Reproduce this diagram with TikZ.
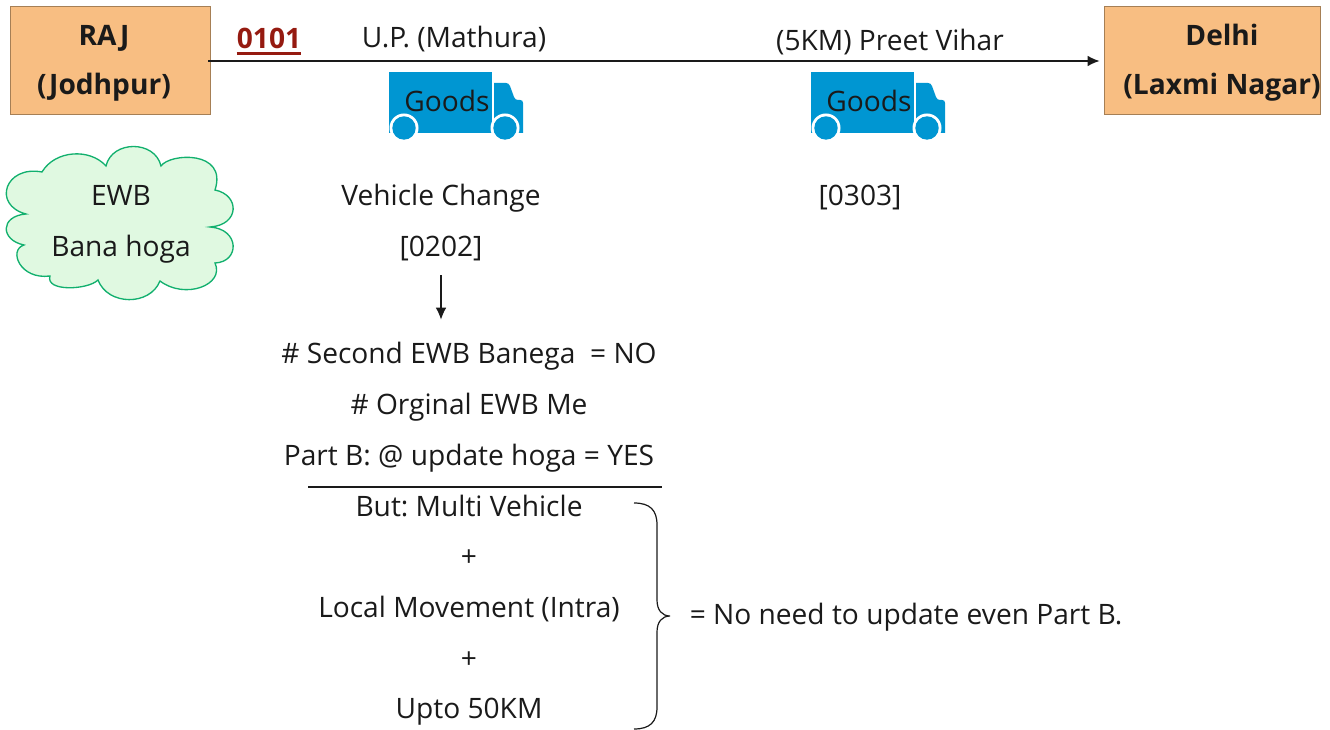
\documentclass[tikz,border=0pt]{standalone}
\usepackage{fontspec}
\setmainfont{Open Sans}
\usepackage{xcolor}
\usetikzlibrary{positioning}
\usetikzlibrary{arrows.meta}
\definecolor{cityfill}{HTML}{F8BE82}
\definecolor{cityline}{HTML}{A67F55}
\definecolor{cloudfill}{HTML}{E0F9E1}
\definecolor{cloudline}{HTML}{12B06E}
\definecolor{truckblue}{HTML}{0096D2}
\definecolor{codered}{HTML}{951A10}
\definecolor{inkblack}{HTML}{1A1A1A}
\tikzset{my_city/.style={draw=cityline, fill=cityfill, semithick, minimum height=81pt, inner sep=0pt}}
\tikzset{my_text/.style={anchor=base, font=\fontsize{21.1}{25}\selectfont, text=inkblack, inner sep=0pt}}
\tikzset{my_bold/.style={my_text, font=\fontsize{21.1}{25}\selectfont\bfseries}}
\tikzset{my_arrow/.style={-{Latex[length=9pt,width=8pt]},line width=1pt,draw=inkblack}}
\tikzset{my_line/.style={line width=0.9pt,draw=inkblack}}
\tikzset{my_truck/.pic={
    \fill[truckblue] (0,0) rectangle (103,61);
    \fill[truckblue] (105,11) -- (117,11) .. controls (119,11) and (120,12) .. (121,14) -- (125,25) .. controls (126,27) and (127,28) .. (129,28) -- (131,28) .. controls (133,28) and (134,29) .. (134,31) -- (134,61) -- (105,61) -- cycle;
    \fill[white] (15,56) circle (14.5);
    \fill[white] (116,56) circle (14.5);
    \fill[truckblue] (15,56) circle (11.7);
    \fill[truckblue] (116,56) circle (11.7);
}}

\begin{document}
\frenchspacing
\begin{tikzpicture}[x=0.75pt,y=-0.75pt]
    \useasboundingbox (0,0) rectangle (1330,730);
    \node[my_city, minimum width=150pt] (raj) at (110,60) {};
    \node[my_city, minimum width=162pt] (delhi) at (1212,60) {};
    \node[my_bold] (rajname) at (104,46) {RAJ};
    \node[my_bold] (jodhpur) at (104,95) {(Jodhpur)};
    \node[my_bold] (delhiname) at (1222,46) {Delhi};
    \node[my_bold] (laxmi) at (1222,95) {(Laxmi Nagar)};
    \coordinate (start) at ([xshift=-1.5pt,yshift=-0.75pt]raj.east);
    \draw[my_arrow, shorten >=3pt] (start) -- (delhi.west |- start);

    \node[my_bold, text=codered] (code1) at (269,49) {0101};
    \draw[codered, line width=2pt] ([yshift=-3pt]code1.south west) -- ([yshift=-3pt]code1.south east);
    \node[my_text] (mathura) at (454,48) {U.P. (Mathura)};
    \node[my_text] (preet) at (890,51) {(5KM) Preet Vihar};

    \pic at (389,72) {my_truck};
    \pic at (811,72) {my_truck};
    \node[my_text] (goods1) at (447,112) {Goods};
    \node[my_text] (goods2) at (869,112) {Goods};

    \draw[cloudline, fill=cloudfill, line width=1pt]
        (42,172) .. controls (55,150) and (90,148) .. (106,166)
        .. controls (112,140) and (155,140) .. (161,166)
        .. controls (170,153) and (228,150) .. (215,190)
        .. controls (240,195) and (240,225) .. (210,227)
        .. controls (240,229) and (240,262) .. (215,263)
        .. controls (225,285) and (185,300) .. (160,281)
        .. controls (150,306) and (108,306) .. (98,280)
        .. controls (88,290) and (45,292) .. (50,276)
        .. controls (20,280) and (8,250) .. (24,245)
        .. controls (0,240) and (0,216) .. (26,214)
        .. controls (-8,205) and (5,165) .. cycle;
    \node[my_text] (ewb) at (121,206) {EWB};
    \node[my_text] (bana) at (121,257) {Bana hoga};

    \node[my_text] (change) at (441,206) {Vehicle Change};
    \node[my_text] (code2) at (441,257) {[0202]};
    \node[my_text] (code3) at (860,206) {[0303]};

    \node[my_text] (second) at (469,364) {\# Second EWB Banega\ \ = NO};
    \node[my_text] (orginal) at (469,414) {\# Orginal EWB Me};
    \node[my_text] (partb) at (469,465) {Part B: @ update hoga = YES};
    \node[my_text] (multi) at (469,516) {But: Multi Vehicle};
    \node[my_text] (plus1) at (469,566) {+};
    \node[my_text] (local) at (469,617) {Local Movement (Intra)};
    \node[my_text] (plus2) at (469,668) {+};
    \node[my_text] (upto) at (469,718) {Upto 50KM};
    \node[my_text] (noneed) at (906,624) {= No need to update even Part B.};

    \coordinate (downstart) at ([yshift=-10pt]code2.south);
    \draw[my_arrow, shorten >=17pt] (downstart) -- (downstart |- second.north);

    \coordinate (rule1) at (308,487);
    \coordinate (rule2) at (662,487);
    \draw[my_line] (rule1) -- (rule2);

    \coordinate (bracetop) at (634,503);
    \coordinate (bracetip) at (670,616);
    \coordinate (bracebot) at (634,729);
    \draw[my_line] (bracetop) .. controls (650,503) and (657,510) .. (657,525)
        -- (657,600) .. controls (657,610) and (662,616) .. (bracetip)
        .. controls (662,616) and (657,622) .. (657,632)
        -- (657,707) .. controls (657,722) and (650,729) .. (bracebot);
\end{tikzpicture}
\end{document}
